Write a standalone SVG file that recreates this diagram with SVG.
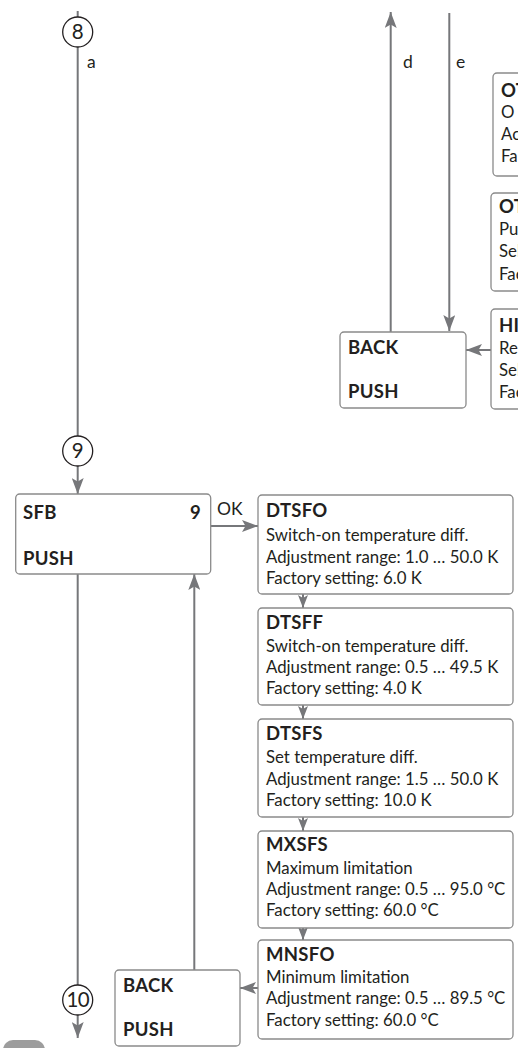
<svg xmlns="http://www.w3.org/2000/svg" width="518" height="1048" viewBox="0 0 518 1048">
<style>
  text { font-family: Lato, "Open Sans", "Liberation Sans", sans-serif; fill: #231f20; }
  .t { font-size: 16.8px; }
  .b { font-size: 18.5px; font-weight: bold; letter-spacing: 0.3px; }
  .num { font-size: 20.5px; text-anchor: middle; }
  .lbl { font-size: 17.5px; }
  .box { fill: #ffffff; stroke: #8a8a8a; stroke-width: 1.3; }
  .circ { fill: #ffffff; stroke: #231f20; stroke-width: 1.3; }
  .ln { fill: none; stroke: #76777a; stroke-width: 2; }
  .arr { fill: none; stroke: #76777a; stroke-width: 2; marker-end: url(#ah); }
  .arrs { fill: none; stroke: #76777a; stroke-width: 2; marker-end: url(#ahs); }
</style>
<defs>
  <marker id="ah" viewBox="0 0 16 12" refX="16" refY="6" markerWidth="16" markerHeight="12" markerUnits="userSpaceOnUse" orient="auto">
    <path d="M0,0 L16,6 L0,12 L3.5,6 z" fill="#76777a"/>
  </marker>
  <marker id="ahs" viewBox="0 0 13 10" refX="13" refY="5" markerWidth="13" markerHeight="10" markerUnits="userSpaceOnUse" orient="auto">
    <path d="M0,0 L13,5 L0,10 L3,5 z" fill="#76777a"/>
  </marker>
</defs>

<g id="connectors">
  <line class="ln" x1="77.7" y1="11" x2="77.7" y2="17"/>
  <line class="ln" x1="77.7" y1="47" x2="77.7" y2="436"/>
  <line class="arr" x1="77.7" y1="466" x2="77.7" y2="494"/>
  <line class="arr" x1="211" y1="526" x2="258" y2="526"/>
  <line class="ln" x1="77.7" y1="574" x2="77.7" y2="985"/>
  <line class="arr" x1="77.7" y1="1015" x2="77.7" y2="1038"/>
  <line class="arr" x1="194.3" y1="970" x2="194.3" y2="574"/>
  <line class="arr" x1="258" y1="988" x2="240" y2="988"/>
  <line class="arrs" x1="303" y1="594" x2="303" y2="608"/>
  <line class="arrs" x1="303" y1="705" x2="303" y2="719"/>
  <line class="arrs" x1="303" y1="817" x2="303" y2="831"/>
  <line class="arrs" x1="303" y1="928" x2="303" y2="940"/>
  <line class="arr" x1="390.7" y1="332" x2="390.7" y2="12"/>
  <line class="arr" x1="449.3" y1="13" x2="449.3" y2="331"/>
  <line class="arr" x1="491" y1="350" x2="466" y2="350"/>
  <text class="lbl" x="87" y="68">a</text>
  <text class="lbl" x="403" y="68">d</text>
  <text class="lbl" x="456" y="68">e</text>
  <text class="lbl" x="217" y="515">OK</text>
</g>

<g id="c8">
  <circle class="circ" cx="77.7" cy="32" r="15"/>
  <text class="num" x="77.7" y="39.3">8</text>
</g>
<g id="c9">
  <circle class="circ" cx="77.7" cy="451" r="15"/>
  <text class="num" x="77.7" y="458.3">9</text>
</g>
<g id="c10">
  <circle class="circ" cx="77.7" cy="1000" r="15"/>
  <text class="num" x="77.7" y="1007.3" letter-spacing="-0.8">10</text>
</g>

<g id="ot1">
  <rect class="box" x="493" y="73" width="40" height="103" rx="4"/>
  <text class="b" x="501" y="97">OT</text>
  <text class="t" x="501" y="118">O</text>
  <text class="t" x="501" y="140">Ac</text>
  <text class="t" x="501" y="162">Fa</text>
</g>
<g id="ot2">
  <rect class="box" x="491" y="193" width="40" height="98" rx="4"/>
  <text class="b" x="499" y="213">OT</text>
  <text class="t" x="499" y="235">Pu</text>
  <text class="t" x="499" y="257">Sel</text>
  <text class="t" x="499" y="280">Fac</text>
</g>
<g id="hi">
  <rect class="box" x="491" y="309" width="40" height="100" rx="4"/>
  <text class="b" x="499" y="332">HI</text>
  <text class="t" x="499" y="354">Re</text>
  <text class="t" x="499" y="376">Sel</text>
  <text class="t" x="499" y="398">Fac</text>
</g>

<g id="back1">
  <rect class="box" x="340" y="332" width="126" height="76" rx="4"/>
  <text class="b" x="348" y="354">BACK</text>
  <text class="b" x="348" y="398">PUSH</text>
</g>

<g id="sfb">
  <rect class="box" x="15.7" y="494" width="195" height="80" rx="4"/>
  <text class="b" x="23" y="519">SFB</text>
  <text class="b" x="201" y="519" text-anchor="end">9</text>
  <text class="b" x="23" y="565">PUSH</text>
</g>

<g id="dtsfo">
  <rect class="box" x="258" y="495" width="255" height="99" rx="4"/>
  <text class="b" x="266" y="517">DTSFO</text>
  <text class="t" x="266" y="541">Switch-on temperature diff.</text>
  <text class="t" x="266" y="563">Adjustment range: 1.0 … 50.0 K</text>
  <text class="t" x="266" y="584">Factory setting: 6.0 K</text>
</g>
<g id="dtsff">
  <rect class="box" x="258" y="608" width="255" height="97" rx="4"/>
  <text class="b" x="266" y="629">DTSFF</text>
  <text class="t" x="266" y="652">Switch-on temperature diff.</text>
  <text class="t" x="266" y="673">Adjustment range: 0.5 … 49.5 K</text>
  <text class="t" x="266" y="694">Factory setting: 4.0 K</text>
</g>
<g id="dtsfs">
  <rect class="box" x="258" y="719" width="255" height="98" rx="4"/>
  <text class="b" x="266" y="740">DTSFS</text>
  <text class="t" x="266" y="763">Set temperature diff.</text>
  <text class="t" x="266" y="785">Adjustment range: 1.5 … 50.0 K</text>
  <text class="t" x="266" y="806">Factory setting: 10.0 K</text>
</g>
<g id="mxsfs">
  <rect class="box" x="258" y="831" width="255" height="97" rx="4"/>
  <text class="b" x="266" y="851">MXSFS</text>
  <text class="t" x="266" y="874">Maximum limitation</text>
  <text class="t" x="266" y="895">Adjustment range: 0.5 … 95.0 °C</text>
  <text class="t" x="266" y="916">Factory setting: 60.0 °C</text>
</g>
<g id="mnsfo">
  <rect class="box" x="258" y="940" width="255" height="99" rx="4"/>
  <text class="b" x="266" y="961">MNSFO</text>
  <text class="t" x="266" y="983">Minimum limitation</text>
  <text class="t" x="266" y="1004">Adjustment range: 0.5 … 89.5 °C</text>
  <text class="t" x="266" y="1026">Factory setting: 60.0 °C</text>
</g>

<g id="back2">
  <rect class="box" x="115" y="970" width="125" height="76" rx="4"/>
  <text class="b" x="123" y="992">BACK</text>
  <text class="b" x="123" y="1036">PUSH</text>
</g>

<g id="tab">
  <rect x="3" y="1040" width="42" height="20" rx="10" fill="#9d9d9d"/>
</g>
</svg>
